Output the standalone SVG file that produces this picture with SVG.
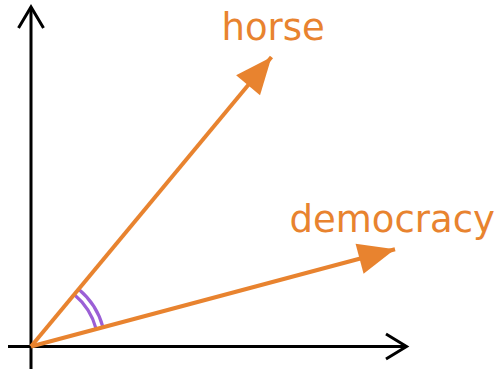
<svg xmlns="http://www.w3.org/2000/svg" width="504" height="369" viewBox="0 0 504 369">
<style>
.axis{stroke:#000;stroke-width:3;fill:none}
.vec{stroke:#e8832f;stroke-width:4;fill:none}
.arc{stroke:#9b5fd6;stroke-width:3.2;fill:none}
.lbl{font-family:"DejaVu Sans",sans-serif;font-size:37px;fill:#e8832f}
</style>
<defs>
<marker id="head" markerUnits="userSpaceOnUse" markerWidth="40" markerHeight="40" viewBox="-34 -16 36 32" refX="0" refY="0" orient="auto">
<path d="M0,0 L-33,-14 L-33,14 Z" fill="#e8832f"/>
</marker>
</defs>
<rect width="504" height="369" fill="#fff"/>
<g id="axes">
<line class="axis" x1="31" y1="369" x2="31" y2="7"/>
<polyline class="axis" points="18.5,28 31,7 43.5,28"/>
<line class="axis" x1="8" y1="346.5" x2="406" y2="346.5"/>
<polyline class="axis" points="386,334 406.5,346.5 386,359"/>
</g>
<g id="angle">
<path class="arc" d="M 96.2 329.2 A 67.5 67.5 0 0 0 74.2 294.6"/>
<path class="arc" d="M 103.0 327.4 A 74.5 74.5 0 0 0 78.7 289.2"/>
</g>
<g id="connectors">
<line class="vec" x1="31" y1="346.5" x2="271.5" y2="57" marker-end="url(#head)"/>
<line class="vec" x1="31" y1="346.5" x2="395" y2="249.3" marker-end="url(#head)"/>
</g>
<g id="horse"><text class="lbl" x="221.5" y="39.5">horse</text></g>
<g id="democracy"><text class="lbl" x="289.5" y="232">democracy</text></g>
</svg>
